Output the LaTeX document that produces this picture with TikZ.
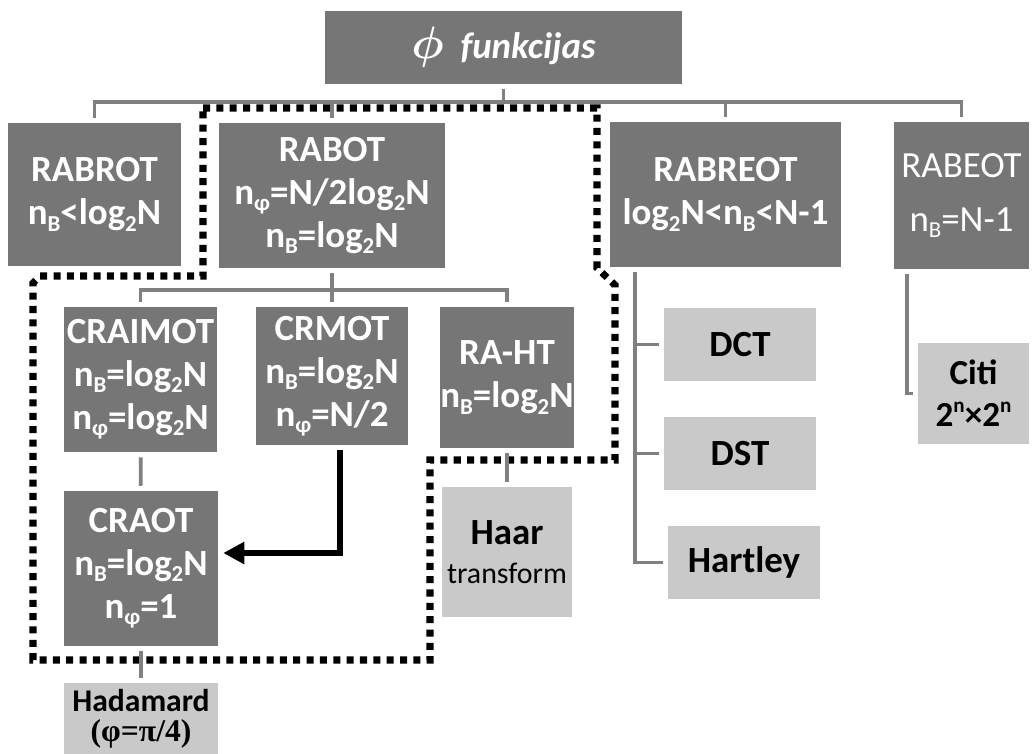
\documentclass[tikz,border=0pt]{standalone}
\usepackage{fontspec}
\setmainfont{Carlito}
\newfontfamily\symfont{Liberation Serif}
\usetikzlibrary{arrows.meta}
\definecolor{boxdark}{RGB}{118,118,118}
\definecolor{boxlight}{RGB}{201,201,201}
\definecolor{linkgray}{RGB}{128,128,128}
\newcommand\lowtxt[1]{\raisebox{-0.35ex}{\fontsize{13}{13}\selectfont #1}}
\newcommand\hightxt[1]{\raisebox{0.85ex}{\fontsize{12}{12}\selectfont #1}}

\begin{document}
\begin{tikzpicture}[x=0.02cm,y=-0.02cm,
  darkbox/.style={fill=boxdark,text=white,font=\fontsize{21}{24.5}\selectfont\bfseries,align=center,inner sep=0pt,outer sep=3pt},
  lightbox/.style={fill=boxlight,text=black,font=\fontsize{21}{22}\selectfont\bfseries,align=center,inner sep=0pt,outer sep=3pt},
  link/.style={draw=linkgray,line width=2.2pt},
  dotframe/.style={line width=4pt,dash pattern=on 4pt off 3.6pt},
  >={Triangle[length=0.42cm,width=0.42cm]}]
\useasboundingbox (0,0) rectangle (1035,754);

% top row
\node[darkbox,minimum width=7.14cm,minimum height=1.46cm] (phi) at (503.5,47.5) {\itshape\scalebox{1.25}{\boldmath$\phi$}\ \ funkcijas};
\node[darkbox,minimum width=3.46cm,minimum height=2.86cm] (rabrot) at (94.5,194.5) {RABROT\\n\lowtxt{B}<log\lowtxt{2}N};
\node[darkbox,minimum width=4.52cm,minimum height=2.9cm] (rabot) at (332,195.5) {RABOT\\n\lowtxt{φ}=N/2log\lowtxt{2}N\\n\lowtxt{B}=log\lowtxt{2}N};
\node[darkbox,minimum width=4.62cm,minimum height=2.9cm] (rabreot) at (725.5,194.5) {RABREOT\\log\lowtxt{2}N<n\lowtxt{B}<N-1};
\node[darkbox,font=\fontsize{21}{31}\selectfont,minimum width=2.7cm,minimum height=2.94cm] (rabeot) at (961.5,195.5) {RABEOT\\n\lowtxt{B}=N-1};

% second row
\node[darkbox,minimum width=3.06cm,minimum height=2.9cm] (craimot) at (140.5,379.5) {CRAIMOT\\n\lowtxt{B}=log\lowtxt{2}N\\n\lowtxt{φ}=log\lowtxt{2}N};
\node[darkbox,minimum width=3.04cm,minimum height=2.76cm] (crmot) at (332,376) {CRMOT\\n\lowtxt{B}=log\lowtxt{2}N\\n\lowtxt{φ}=N/2};
\node[darkbox,minimum width=2.6cm,minimum height=2.82cm] (raht) at (507,377.5) {RA-HT\\n\lowtxt{B}=log\lowtxt{2}N};
\node[darkbox,minimum width=3.08cm,minimum height=3.1cm] (craot) at (141,568.5) {CRAOT\\n\lowtxt{B}=log\lowtxt{2}N\\n\lowtxt{φ}=1};

% transforms
\node[lightbox,font=\fontsize{18}{17}\selectfont\bfseries,minimum width=3.08cm,minimum height=1.42cm] (hadamard) at (141,718.5) {Hadamard\\{\symfont(φ=π/4)}};
\node[lightbox,minimum width=2.6cm,minimum height=2.6cm] (haar) at (507,552) {Haar\\{\fontsize{17}{21}\mdseries\selectfont transform}};
\node[lightbox,minimum width=3.04cm,minimum height=1.46cm] (dct) at (740,344.5) {DCT};
\node[lightbox,minimum width=3.04cm,minimum height=1.46cm] (dst) at (740,453.5) {DST};
\node[lightbox,minimum width=3.04cm,minimum height=1.46cm] (hartley) at (744,562.5) {Hartley};
\node[lightbox,font=\fontsize{20}{24}\selectfont\bfseries,minimum width=2.22cm,minimum height=2.02cm] (citi) at (973.5,393.5) {Citi\\2\hightxt{n}×2\hightxt{n}};

% dotted group
\draw[dotframe] (203,108) -- (597,108) -- (597,268) -- (615,285) -- (615,460) -- (430,460) -- (430,660) -- (33,660) -- (33,283) -- (40,276) -- (203,276) -- cycle;

% tree lines
\coordinate (busa) at (0,102);
\coordinate (busb) at (0,290);
\draw[link] (phi.south) -- (phi.south |- busa);
\draw[link] (rabrot.north) |- (busa -| rabeot.north) -- (rabeot.north);
\draw[link] (rabot.north |- busa) -- (rabot.north);
\draw[link] (rabreot.north |- busa) -- (rabreot.north);
\draw[link] (rabot.south) -- (rabot.south |- busb);
\draw[link] (craimot.north) |- (busb -| raht.north) -- (raht.north);
\draw[link] (crmot.north |- busb) -- (crmot.north);
\draw[link] (craimot) -- (craot);
\draw[link] (craot) -- (hadamard);
\draw[link] (raht) -- (haar);
\coordinate (trunk) at ([xshift=0.6cm]rabreot.south west);
\draw[link] (trunk) |- (hartley.west);
\draw[link] (trunk |- dct.west) -- (dct.west);
\draw[link] (trunk |- dst.west) -- (dst.west);
\coordinate (hook) at ([xshift=0.37cm]rabeot.south west);
\draw[link] (hook) |- (citi.west);

\draw[->,line width=3.2pt] ([xshift=0.16cm]crmot.south) |- ([yshift=0.31cm]craot.east);
\end{tikzpicture}
\end{document}
